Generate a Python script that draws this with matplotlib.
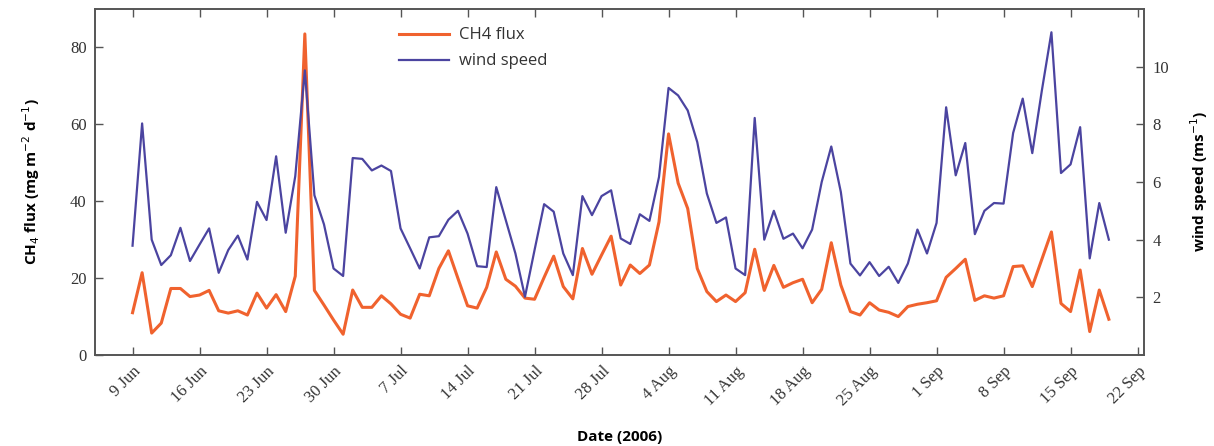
import numpy as np
import pandas as pd
import matplotlib
matplotlib.use("Agg")
import matplotlib.pyplot as plt
import matplotlib.dates as mdates

# daily values from 9 Jun 2006
start_date = "2006-06-09"

ch4_flux = [
    11.0, 21.4, 5.7, 8.3, 17.3, 17.3, 15.2, 15.6, 16.8, 11.5,
    10.9, 11.5, 10.4, 16.1, 12.2, 15.7, 11.3, 20.5, 83.5, 16.8,
    13.0, 9.1, 5.4, 16.9, 12.4, 12.4, 15.4, 13.3, 10.6, 9.6,
    15.8, 15.4, 22.5, 27.1, 19.9, 12.8, 12.2, 17.6, 26.8, 19.7,
    17.9, 14.8, 14.5, 20.2, 25.7, 17.8, 14.6, 27.7, 21.0, 26.0,
    30.9, 18.2, 23.4, 21.2, 23.4, 34.6, 57.5, 44.7, 38.1, 22.5,
    16.5, 13.9, 15.6, 13.9, 16.2, 27.5, 16.8, 23.3, 17.6, 18.8,
    19.7, 13.6, 17.1, 29.2, 18.2, 11.3, 10.4, 13.6, 11.7, 11.1,
    10.0, 12.6, 13.2, 13.6, 14.1, 20.2, 22.5, 24.9, 14.2, 15.4,
    14.8, 15.4, 23.0, 23.2, 17.8, 24.9, 32.0, 13.4, 11.3, 22.1,
    6.1, 16.9, 9.3,
]

wind_speed = [
    3.79, 8.03, 4.00, 3.12, 3.46, 4.41, 3.26, 3.83, 4.39, 2.85,
    3.64, 4.14, 3.31, 5.31, 4.68, 6.89, 4.24, 6.20, 9.87, 5.54,
    4.53, 3.00, 2.74, 6.83, 6.80, 6.40, 6.57, 6.38, 4.39, 3.70,
    3.00, 4.08, 4.12, 4.69, 5.00, 4.21, 3.08, 3.05, 5.82, 4.67,
    3.52, 2.02, 3.64, 5.23, 4.97, 3.52, 2.77, 5.51, 4.85, 5.51,
    5.71, 4.04, 3.85, 4.88, 4.65, 6.17, 9.26, 9.00, 8.48, 7.38,
    5.60, 4.58, 4.77, 3.00, 2.77, 8.22, 4.00, 5.00, 4.03, 4.21,
    3.70, 4.35, 6.00, 7.23, 5.65, 3.17, 2.76, 3.22, 2.74, 3.06,
    2.50, 3.17, 4.35, 3.52, 4.58, 8.59, 6.23, 7.35, 4.19, 5.00,
    5.27, 5.25, 7.70, 8.89, 7.00, 9.17, 11.19, 6.31, 6.61, 7.90,
    3.35, 5.27, 4.00,
]

dates = pd.date_range(start_date, periods=len(ch4_flux), freq="D")
tick_dates = pd.date_range("2006-06-09", "2006-09-22", freq="7D")

orange = "#F0622E"
purple = "#4B44A0"
spine_col = "#555555"
text_col = "#333333"

fig = plt.figure(figsize=(12.14, 4.46), dpi=100)
ax = fig.add_axes([0.0783, 0.204, 0.8640, 0.776])
ax2 = ax.twinx()

ln1, = ax.plot(dates, ch4_flux, color=orange, lw=2.2, label="CH4 flux")
ln2, = ax2.plot(dates, wind_speed, color=purple, lw=1.6, label="wind speed")

ax.set_ylim(0, 90)
ax2.set_ylim(0, 12)
ax.set_yticks([0, 20, 40, 60, 80])
ax2.set_yticks([2, 4, 6, 8, 10])
ax.set_xlim(pd.Timestamp("2006-06-05 02:00"), pd.Timestamp("2006-09-22 16:00"))

ax.set_xticks(tick_dates)
ax.xaxis.set_major_formatter(mdates.DateFormatter("%-d %b"))
for lab in ax.get_xticklabels():
    lab.set_rotation(45)
    lab.set_ha("right")
    lab.set_rotation_mode("anchor")

serif = ["Liberation Serif", "DejaVu Serif"]
for a in (ax, ax2):
    for s in a.spines.values():
        s.set_color(spine_col)
        s.set_linewidth(1.2)
    for lab in a.get_xticklabels() + a.get_yticklabels():
        lab.set_family(serif)
        lab.set_fontsize(12)
        lab.set_color(text_col)
ax.tick_params(axis="both", direction="in", length=6, width=1, color=spine_col,
               top=True, pad=6)
ax2.tick_params(axis="y", direction="in", length=6, width=1, color=spine_col, pad=6)

ax.set_xlabel("Date (2006)", fontsize=11, fontweight="bold", family="Open Sans",
              labelpad=15)
ax.set_ylabel("CH$_4$ flux (mg m$^{-2}$ d$^{-1}$)", fontsize=11, fontweight="bold",
              family="Open Sans", labelpad=20)
ax2.set_ylabel("wind speed (ms$^{-1}$)", fontsize=11, fontweight="bold",
               family="Open Sans", labelpad=14)

leg = ax.legend(handles=[ln1, ln2], loc="upper left", bbox_to_anchor=(0.2755, 0.99),
                frameon=False, handlelength=3.0, handletextpad=0.6, labelspacing=0.6,
                prop={"family": "Open Sans", "size": 12})
for t in leg.get_texts():
    t.set_color(text_col)

fig.savefig("out.png", dpi=100)
